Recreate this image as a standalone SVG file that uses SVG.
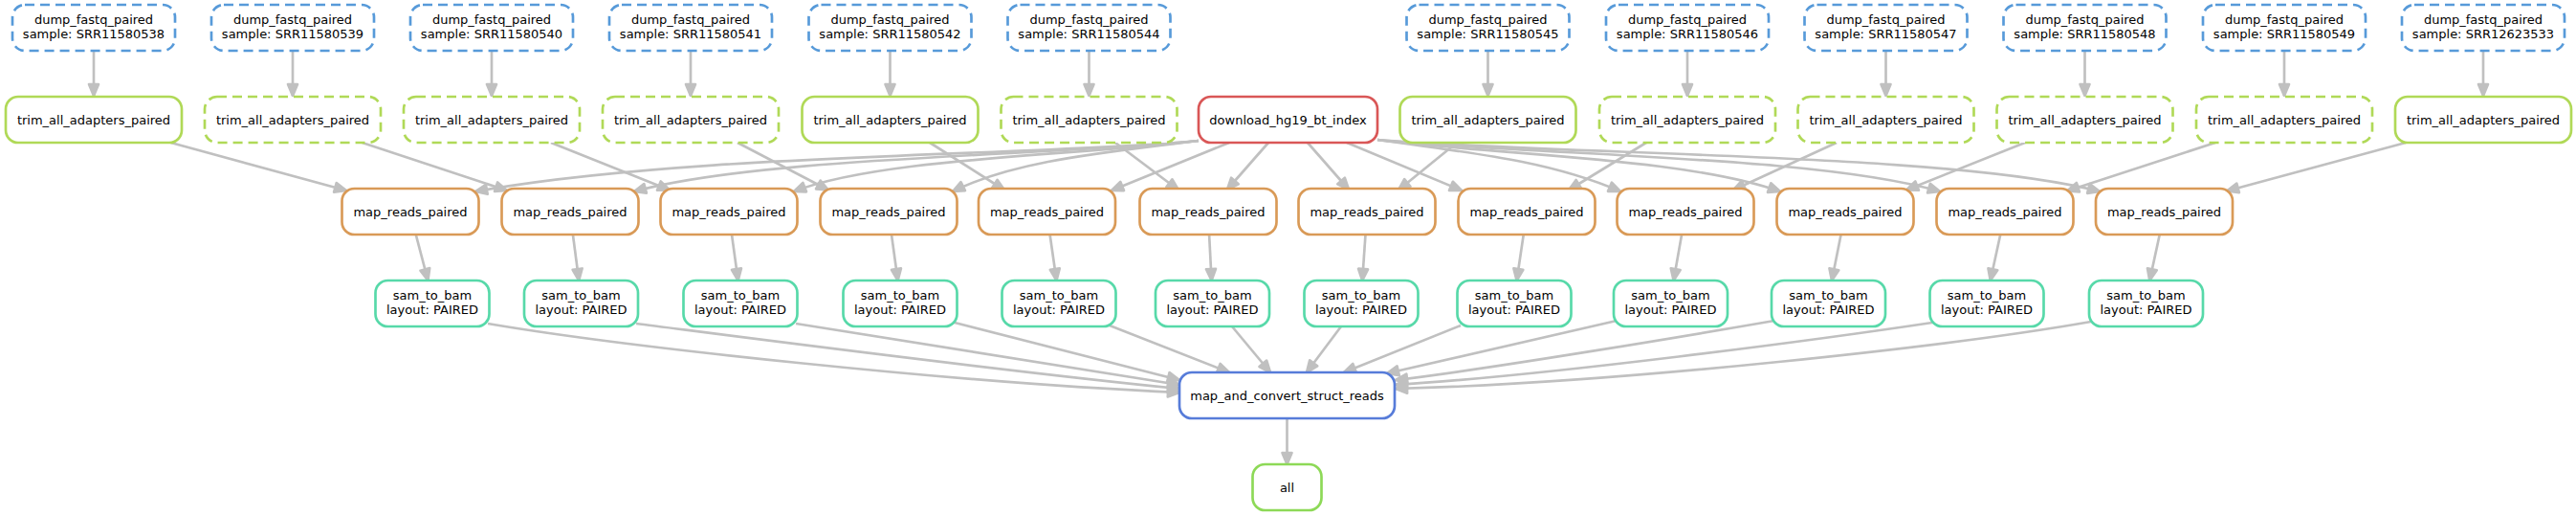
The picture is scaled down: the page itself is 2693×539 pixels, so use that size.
<svg xmlns="http://www.w3.org/2000/svg" width="2693" height="539" viewBox="0 0 2693 539">
<style>
.n rect{fill:#fff;stroke-width:2.67}
.dash rect{stroke-dasharray:10 6}
.dump rect{stroke:#579ad9}
.trim rect{stroke:#b0d957}
.dl rect{stroke:#d95757}
.map rect{stroke:#d99a57}
.sam rect{stroke:#57d9a9}
.mac rect{stroke:#577cd9}
.all rect{stroke:#8dd957}
text{font-family:"DejaVu Sans","Liberation Sans",sans-serif;font-size:13px;text-anchor:middle;fill:#000}
#edges path{fill:none;stroke:#c0c0c0;stroke-width:2.67;marker-end:url(#ah)}
</style>
<defs>
<marker id="ah" markerUnits="userSpaceOnUse" markerWidth="20" markerHeight="20" refX="12" refY="5" orient="auto" overflow="visible">
<path d="M0,0 L12,5 L0,10 z" fill="#c0c0c0" stroke="#c0c0c0" stroke-width="2.67" stroke-linejoin="round"/>
</marker>
</defs>
<rect width="2693" height="539" fill="#fff"/>
<g id="edges">
<path d="M98,54 L98,100"/>
<path d="M306,54 L306,100"/>
<path d="M514,54 L514,100"/>
<path d="M722,54 L722,100"/>
<path d="M930.5,54 L930.5,100"/>
<path d="M1138.5,54 L1138.5,100"/>
<path d="M1555.5,54 L1555.5,100"/>
<path d="M1764,54 L1764,100"/>
<path d="M1971.5,54 L1971.5,100"/>
<path d="M2179.5,54 L2179.5,100"/>
<path d="M2388,54 L2388,100"/>
<path d="M2596,54 L2596,100"/>
<path d="M178.6,149 L362,199"/>
<path d="M378.6,149 L530,199"/>
<path d="M576,149 L700,198.5"/>
<path d="M771,149 L866,198.5"/>
<path d="M972,149 L1050,198.5"/>
<path d="M1166,149 L1232,198.5"/>
<path d="M1523,149 L1462,198.5"/>
<path d="M1721,149 L1640,198.5"/>
<path d="M1920,149 L1812,198.5"/>
<path d="M2117,149 L1993,198.5"/>
<path d="M2316,149 L2161,199.5"/>
<path d="M2515,149 L2328,199.5"/>
<path d="M1253,147 C1080,163 720,160 497,200"/>
<path d="M1253,147 C1100,163 800,163 663,200"/>
<path d="M1253,147 C1120,163 920,165 830,200"/>
<path d="M1253,147 C1150,160 1060,168 996,200"/>
<path d="M1285,149 L1162,199"/>
<path d="M1326,149 L1283,198"/>
<path d="M1367,149 L1410,198"/>
<path d="M1408,149 L1528,199"/>
<path d="M1440,146 C1540,160 1620,168 1694,200"/>
<path d="M1440,146 C1580,163 1760,165 1861,200"/>
<path d="M1440,146 C1620,163 1900,163 2028,200"/>
<path d="M1440,146 C1660,163 2040,160 2195,200"/>
<path d="M434.75,245 L447.4,293"/>
<path d="M598.9,245 L605.2,293"/>
<path d="M765,245 L771.6,293"/>
<path d="M932,245 L938.6,293"/>
<path d="M1097.6,245 L1104.5,293"/>
<path d="M1264.1,245 L1266.6,293"/>
<path d="M1427.5,245 L1424.2,293"/>
<path d="M1592.75,245 L1585.6,293"/>
<path d="M1758.1,245 L1749.6,293"/>
<path d="M1924.6,245 L1915,293"/>
<path d="M2091.25,245 L2080.8,293"/>
<path d="M2257.75,245 L2247.3,293"/>
<path d="M510,338 C650,362 1000,400 1233,410"/>
<path d="M665,338 C760,350 1050,388 1233,406"/>
<path d="M832,338 L1233,402"/>
<path d="M998,337 L1233,397"/>
<path d="M1160,340 L1285,389"/>
<path d="M1288,341 L1328,389"/>
<path d="M1402,341 L1366,389"/>
<path d="M1527,340 L1405,389"/>
<path d="M1690,335 L1450,390"/>
<path d="M1855,335 C1780,348 1560,385 1459,397"/>
<path d="M2020,337 C1900,355 1620,392 1459,402"/>
<path d="M2186,336 C2050,360 1700,400 1459,406"/>
<path d="M1345.5,437 L1345.5,485"/>
</g>
<g id="dump1" class="n dump dash"><rect x="13" y="5" width="170" height="48" rx="13"/><text x="98" y="25">dump_fastq_paired</text><text x="98" y="40">sample: SRR11580538</text></g>
<g id="dump2" class="n dump dash"><rect x="221" y="5" width="170" height="48" rx="13"/><text x="306" y="25">dump_fastq_paired</text><text x="306" y="40">sample: SRR11580539</text></g>
<g id="dump3" class="n dump dash"><rect x="429" y="5" width="170" height="48" rx="13"/><text x="514" y="25">dump_fastq_paired</text><text x="514" y="40">sample: SRR11580540</text></g>
<g id="dump4" class="n dump dash"><rect x="637" y="5" width="170" height="48" rx="13"/><text x="722" y="25">dump_fastq_paired</text><text x="722" y="40">sample: SRR11580541</text></g>
<g id="dump5" class="n dump dash"><rect x="845.5" y="5" width="170" height="48" rx="13"/><text x="930.5" y="25">dump_fastq_paired</text><text x="930.5" y="40">sample: SRR11580542</text></g>
<g id="dump6" class="n dump dash"><rect x="1053.5" y="5" width="170" height="48" rx="13"/><text x="1138.5" y="25">dump_fastq_paired</text><text x="1138.5" y="40">sample: SRR11580544</text></g>
<g id="dump7" class="n dump dash"><rect x="1470.5" y="5" width="170" height="48" rx="13"/><text x="1555.5" y="25">dump_fastq_paired</text><text x="1555.5" y="40">sample: SRR11580545</text></g>
<g id="dump8" class="n dump dash"><rect x="1679" y="5" width="170" height="48" rx="13"/><text x="1764" y="25">dump_fastq_paired</text><text x="1764" y="40">sample: SRR11580546</text></g>
<g id="dump9" class="n dump dash"><rect x="1886.5" y="5" width="170" height="48" rx="13"/><text x="1971.5" y="25">dump_fastq_paired</text><text x="1971.5" y="40">sample: SRR11580547</text></g>
<g id="dump10" class="n dump dash"><rect x="2094.5" y="5" width="170" height="48" rx="13"/><text x="2179.5" y="25">dump_fastq_paired</text><text x="2179.5" y="40">sample: SRR11580548</text></g>
<g id="dump11" class="n dump dash"><rect x="2303" y="5" width="170" height="48" rx="13"/><text x="2388" y="25">dump_fastq_paired</text><text x="2388" y="40">sample: SRR11580549</text></g>
<g id="dump12" class="n dump dash"><rect x="2511" y="5" width="170" height="48" rx="13"/><text x="2596" y="25">dump_fastq_paired</text><text x="2596" y="40">sample: SRR12623533</text></g>
<g id="trim1" class="n trim"><rect x="6" y="101" width="184" height="48" rx="13"/><text x="98" y="129.5">trim_all_adapters_paired</text></g>
<g id="trim2" class="n trim dash"><rect x="214" y="101" width="184" height="48" rx="13"/><text x="306" y="129.5">trim_all_adapters_paired</text></g>
<g id="trim3" class="n trim dash"><rect x="422" y="101" width="184" height="48" rx="13"/><text x="514" y="129.5">trim_all_adapters_paired</text></g>
<g id="trim4" class="n trim dash"><rect x="630" y="101" width="184" height="48" rx="13"/><text x="722" y="129.5">trim_all_adapters_paired</text></g>
<g id="trim5" class="n trim"><rect x="838.5" y="101" width="184" height="48" rx="13"/><text x="930.5" y="129.5">trim_all_adapters_paired</text></g>
<g id="trim6" class="n trim dash"><rect x="1046.5" y="101" width="184" height="48" rx="13"/><text x="1138.5" y="129.5">trim_all_adapters_paired</text></g>
<g id="download" class="n dl"><rect x="1253" y="101" width="187" height="48" rx="13"/><text x="1346.5" y="129.5">download_hg19_bt_index</text></g>
<g id="trim7" class="n trim"><rect x="1463.5" y="101" width="184" height="48" rx="13"/><text x="1555.5" y="129.5">trim_all_adapters_paired</text></g>
<g id="trim8" class="n trim dash"><rect x="1672" y="101" width="184" height="48" rx="13"/><text x="1764" y="129.5">trim_all_adapters_paired</text></g>
<g id="trim9" class="n trim dash"><rect x="1879.5" y="101" width="184" height="48" rx="13"/><text x="1971.5" y="129.5">trim_all_adapters_paired</text></g>
<g id="trim10" class="n trim dash"><rect x="2087.5" y="101" width="184" height="48" rx="13"/><text x="2179.5" y="129.5">trim_all_adapters_paired</text></g>
<g id="trim11" class="n trim dash"><rect x="2296" y="101" width="184" height="48" rx="13"/><text x="2388" y="129.5">trim_all_adapters_paired</text></g>
<g id="trim12" class="n trim"><rect x="2504" y="101" width="184" height="48" rx="13"/><text x="2596" y="129.5">trim_all_adapters_paired</text></g>
<g id="map1" class="n map"><rect x="357.5" y="197" width="143" height="48" rx="13"/><text x="429" y="225.5">map_reads_paired</text></g>
<g id="map2" class="n map"><rect x="524.5" y="197" width="143" height="48" rx="13"/><text x="596" y="225.5">map_reads_paired</text></g>
<g id="map3" class="n map"><rect x="690.5" y="197" width="143" height="48" rx="13"/><text x="762" y="225.5">map_reads_paired</text></g>
<g id="map4" class="n map"><rect x="857.5" y="197" width="143" height="48" rx="13"/><text x="929" y="225.5">map_reads_paired</text></g>
<g id="map5" class="n map"><rect x="1023" y="197" width="143" height="48" rx="13"/><text x="1094.5" y="225.5">map_reads_paired</text></g>
<g id="map6" class="n map"><rect x="1191.5" y="197" width="143" height="48" rx="13"/><text x="1263" y="225.5">map_reads_paired</text></g>
<g id="map7" class="n map"><rect x="1357.5" y="197" width="143" height="48" rx="13"/><text x="1429" y="225.5">map_reads_paired</text></g>
<g id="map8" class="n map"><rect x="1524.5" y="197" width="143" height="48" rx="13"/><text x="1596" y="225.5">map_reads_paired</text></g>
<g id="map9" class="n map"><rect x="1690.5" y="197" width="143" height="48" rx="13"/><text x="1762" y="225.5">map_reads_paired</text></g>
<g id="map10" class="n map"><rect x="1857.5" y="197" width="143" height="48" rx="13"/><text x="1929" y="225.5">map_reads_paired</text></g>
<g id="map11" class="n map"><rect x="2024.5" y="197" width="143" height="48" rx="13"/><text x="2096" y="225.5">map_reads_paired</text></g>
<g id="map12" class="n map"><rect x="2191" y="197" width="143" height="48" rx="13"/><text x="2262.5" y="225.5">map_reads_paired</text></g>
<g id="sam1" class="n sam"><rect x="392.5" y="293" width="119" height="48" rx="13"/><text x="452" y="313">sam_to_bam</text><text x="452" y="328">layout: PAIRED</text></g>
<g id="sam2" class="n sam"><rect x="548" y="293" width="119" height="48" rx="13"/><text x="607.5" y="313">sam_to_bam</text><text x="607.5" y="328">layout: PAIRED</text></g>
<g id="sam3" class="n sam"><rect x="714.5" y="293" width="119" height="48" rx="13"/><text x="774" y="313">sam_to_bam</text><text x="774" y="328">layout: PAIRED</text></g>
<g id="sam4" class="n sam"><rect x="881.5" y="293" width="119" height="48" rx="13"/><text x="941" y="313">sam_to_bam</text><text x="941" y="328">layout: PAIRED</text></g>
<g id="sam5" class="n sam"><rect x="1047.5" y="293" width="119" height="48" rx="13"/><text x="1107" y="313">sam_to_bam</text><text x="1107" y="328">layout: PAIRED</text></g>
<g id="sam6" class="n sam"><rect x="1208" y="293" width="119" height="48" rx="13"/><text x="1267.5" y="313">sam_to_bam</text><text x="1267.5" y="328">layout: PAIRED</text></g>
<g id="sam7" class="n sam"><rect x="1363.5" y="293" width="119" height="48" rx="13"/><text x="1423" y="313">sam_to_bam</text><text x="1423" y="328">layout: PAIRED</text></g>
<g id="sam8" class="n sam"><rect x="1523.5" y="293" width="119" height="48" rx="13"/><text x="1583" y="313">sam_to_bam</text><text x="1583" y="328">layout: PAIRED</text></g>
<g id="sam9" class="n sam"><rect x="1687" y="293" width="119" height="48" rx="13"/><text x="1746.5" y="313">sam_to_bam</text><text x="1746.5" y="328">layout: PAIRED</text></g>
<g id="sam10" class="n sam"><rect x="1852" y="293" width="119" height="48" rx="13"/><text x="1911.5" y="313">sam_to_bam</text><text x="1911.5" y="328">layout: PAIRED</text></g>
<g id="sam11" class="n sam"><rect x="2017.5" y="293" width="119" height="48" rx="13"/><text x="2077" y="313">sam_to_bam</text><text x="2077" y="328">layout: PAIRED</text></g>
<g id="sam12" class="n sam"><rect x="2184" y="293" width="119" height="48" rx="13"/><text x="2243.5" y="313">sam_to_bam</text><text x="2243.5" y="328">layout: PAIRED</text></g>
<g id="map_and_convert" class="n mac"><rect x="1233" y="389" width="225" height="48" rx="13"/><text x="1345.5" y="417.5">map_and_convert_struct_reads</text></g>
<g id="all" class="n all"><rect x="1309.5" y="485" width="72" height="48" rx="13"/><text x="1345.5" y="513.5">all</text></g>
</svg>
